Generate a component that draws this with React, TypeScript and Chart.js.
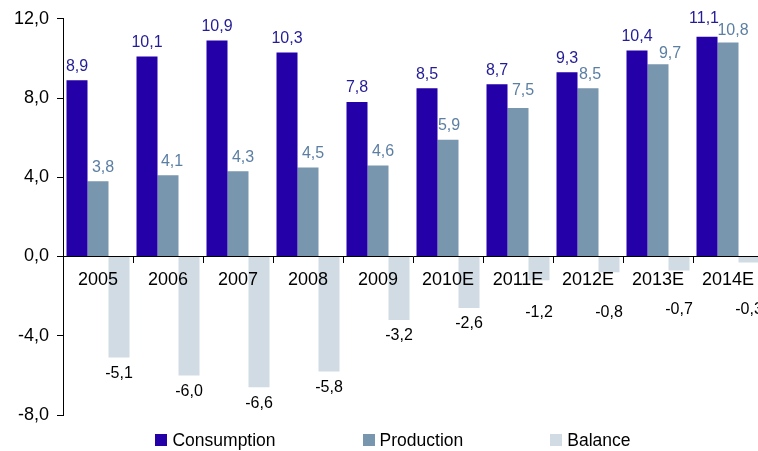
import React, { useEffect, useRef } from "react";
import { Chart, registerables } from "chart.js";

Chart.register(...registerables);

const categories = ["2005", "2006", "2007", "2008", "2009", "2010E", "2011E", "2012E", "2013E", "2014E"];
const consumption = [8.9, 10.1, 10.9, 10.3, 7.8, 8.5, 8.7, 9.3, 10.4, 11.1];
const production = [3.8, 4.1, 4.3, 4.5, 4.6, 5.9, 7.5, 8.5, 9.7, 10.8];
const balance = [-5.1, -6.0, -6.6, -5.8, -3.2, -2.6, -1.2, -0.8, -0.7, -0.3];
const seriesNames = ["Consumption", "Production", "Balance"];
const barColors = ["#2400A8", "#7896AE", "#D0DBE4"];
const labelColors = ["#231C96", "#5B7FA3", "#000000"];
const yTicks = [-8, -4, 0, 4, 8, 12];
// small manual nudges of the value labels, as in the source chart
const labelDx = [
  [0, 0, 0, 0, 0, 0, 0, 0, 0, -3],
  [5, 4, 5, 5, 5, 1, 5, 2, 12, 5],
  [0, 0, 0, 0, 0, 0, 0, 0, 0, 0],
];
const labelDy = [
  [0, 0, 0, 0, 0, 0, 0, 0, 0, -4],
  [0, 0, 0, 0, 0, 0, -3, 0, 3, 2],
  [0, 0, 0, 0, 0, 0, 3, 3, 0, 0],
];

const FONT = "'Liberation Sans', Arial, sans-serif";
const fmt = (v: number) => v.toFixed(1).replace(".", ",");

const labelPlugin = {
  id: "valueLabels",
  afterDatasetsDraw(chart: any) {
    const ctx = chart.ctx;
    const zero = chart.scales.y.getPixelForValue(0);
    ctx.save();
    ctx.font = `16px ${FONT}`;
    ctx.textAlign = "center";
    ctx.textBaseline = "middle";
    chart.data.datasets.forEach((ds: any, di: number) => {
      const meta = chart.getDatasetMeta(di);
      meta.data.forEach((el: any, i: number) => {
        const v = ds.data[i];
        let y: number;
        if (v >= 0) y = el.y - 14;
        else y = Math.max(el.y + 16, zero + 53);
        ctx.fillStyle = labelColors[di];
        ctx.fillText(fmt(v), el.x + labelDx[di][i], y + labelDy[di][i]);
      });
    });
    ctx.restore();
  },
};

export default function App() {
  const ref = useRef<HTMLCanvasElement>(null);
  useEffect(() => {
    document.body.style.overflow = "hidden";
    const data = [consumption, production, balance];
    const chart = new Chart(ref.current!, {
      type: "bar",
      data: {
        labels: categories,
        datasets: seriesNames.map((n, i) => ({
          label: n,
          data: data[i],
          backgroundColor: barColors[i],
          borderWidth: 0,
          categoryPercentage: 0.9,
          barPercentage: 1,
        })),
      },
      options: {
        animation: false,
        responsive: false,
        layout: { padding: { top: 18, bottom: 36, left: 0, right: 0 } },
        plugins: { legend: { display: false }, tooltip: { enabled: false } },
        scales: {
          x: {
            position: { y: 0 } as any,
            grid: { display: true, drawOnChartArea: false, drawTicks: true, tickLength: 6, color: "#000", offset: true, z: 1 },
            border: { display: true, color: "#000", width: 1, z: 1 },
            ticks: { font: { size: 18, family: FONT }, color: "#000", padding: 7, maxRotation: 0, autoSkip: false, z: 1 },
          },
          y: {
            min: -8,
            max: 12,
            afterFit: (s: any) => {
              s.width = 63;
            },
            afterBuildTicks: (s: any) => {
              s.ticks = yTicks.map((v) => ({ value: v }));
            },
            grid: { display: true, drawOnChartArea: false, drawTicks: true, tickLength: 6, color: "#000" },
            border: { display: true, color: "#000", width: 1 },
            ticks: {
              font: { size: 18, family: FONT },
              color: "#000",
              padding: 8,
              callback: (v: any) => fmt(Number(v)),
            },
          },
        },
      },
      plugins: [labelPlugin],
    });
    return () => chart.destroy();
  }, []);

  const legendItem = (i: number) => (
    <div key={i} style={{ display: "flex", alignItems: "center" }}>
      <span style={{ width: 12, height: 12, background: barColors[i], display: "inline-block", marginRight: 5 }} />
      <span>{seriesNames[i]}</span>
    </div>
  );

  return (
    <div style={{ position: "fixed", left: 0, top: 0, width: 763, height: 451 }}>
      <canvas ref={ref} width={763} height={451} style={{ display: "block" }} />
      <div
        style={{
          position: "absolute",
          left: 0,
          top: 430,
          width: 786,
          display: "flex",
          justifyContent: "center",
          gap: 87,
          fontFamily: FONT,
          fontSize: 17.5,
          lineHeight: "20px",
          color: "#000",
        }}
      >
        {seriesNames.map((_, i) => legendItem(i))}
      </div>
    </div>
  );
}
